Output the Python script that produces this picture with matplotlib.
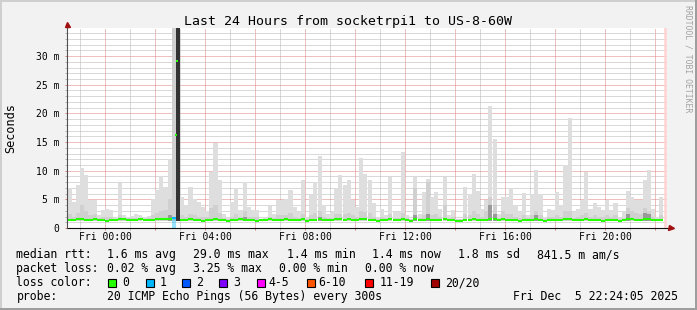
# Smokeping style latency chart, last 24 hours socketrpi1 -> US-8-60W
import numpy as np
import matplotlib
matplotlib.use("Agg")
import matplotlib.pyplot as plt
from matplotlib.patches import Rectangle
from matplotlib.ticker import MultipleLocator, FuncFormatter

W, H = 697, 310
MONO = "DejaVu Sans Mono"

# time axis in hours relative to Fri 00:00, 10 minute steps from Thu 22:30
step_h = 1 / 6
start_h = -1.5
now_h = 22.4

# smoke: top of the light gray band (ms) per step
smoke_max = [
    7.0, 4.6, 7.5, 10.5, 9.2, 4.9, 4.9, 2.2, 3.2, 3.4,
    3.1, 1.9, 7.9, 2.3, 2.0, 2.1, 2.4, 2.2, 2.0, 2.1,
    5.0, 6.6, 9.0, 7.2, 12.0, 40.0, 40.0, 5.4, 4.0, 7.1,
    5.1, 4.6, 3.7, 3.0, 9.8, 14.9, 8.4, 2.5, 1.9, 4.6,
    6.9, 3.1, 8.1, 3.7, 3.1, 3.1, 1.6, 1.7, 3.8, 2.5,
    4.9, 4.9, 5.0, 6.6, 3.7, 2.8, 8.4, 1.9, 5.7, 8.1,
    12.5, 4.0, 2.5, 2.8, 6.9, 9.2, 7.5, 8.4, 4.9, 3.7,
    12.2, 9.5, 8.4, 4.3, 1.9, 3.4, 2.2, 8.9, 2.8, 2.8,
    13.3, 2.2, 1.6, 8.9, 2.5, 6.3, 8.5, 5.4, 6.3, 3.4,
    8.9, 2.2, 3.1, 1.6, 1.6, 7.2, 6.0, 9.4, 6.5, 3.4,
    4.9, 21.3, 15.5, 2.5, 5.4, 5.4, 6.9, 4.0, 2.8, 6.1,
    2.2, 6.0, 10.2, 6.0, 1.9, 3.4, 3.1, 6.3, 4.0, 11.0,
    19.2, 2.8, 3.4, 4.9, 9.8, 3.4, 4.3, 3.7, 3.1, 4.9,
    3.1, 4.3, 1.9, 2.8, 6.5, 5.4, 4.9, 4.9, 8.4, 10.1,
    3.4, 1.9, 5.4,
]

# denser middle band of the smoke (ms)
smoke_mid = [
    2.4, 2.0, 2.6, 4.0, 3.0, 2.2, 2.4, 1.8, 2.0, 2.0,
    1.9, 1.6, 2.2, 1.8, 1.7, 1.7, 1.8, 1.7, 1.6, 1.7,
    2.2, 2.6, 3.0, 3.2, 5.0, 40.0, 40.0, 2.2, 2.0, 2.4,
    2.2, 2.0, 2.0, 1.9, 3.5, 4.0, 2.6, 1.8, 1.6, 2.0,
    2.4, 1.9, 3.0, 2.0, 1.9, 1.9, 1.5, 1.5, 2.0, 1.8,
    2.2, 2.2, 2.2, 2.6, 2.0, 1.8, 2.4, 1.6, 2.2, 2.6,
    3.0, 2.0, 1.8, 1.8, 2.4, 2.5, 2.4, 2.6, 2.2, 2.0,
    3.0, 2.8, 2.6, 2.0, 1.6, 2.0, 1.8, 2.4, 1.8, 1.8,
    2.6, 1.8, 1.5, 7.0, 1.8, 2.2, 8.0, 2.2, 2.4, 2.0,
    4.0, 1.8, 2.0, 1.5, 1.5, 2.4, 2.2, 3.0, 2.4, 2.0,
    3.0, 5.4, 4.0, 1.8, 3.0, 2.5, 2.4, 2.0, 1.8, 2.2,
    1.8, 2.2, 3.0, 2.2, 1.6, 2.0, 1.9, 2.2, 2.0, 3.0,
    3.0, 1.8, 2.0, 2.2, 2.6, 2.0, 2.2, 2.0, 1.9, 2.2,
    2.0, 2.2, 1.6, 1.8, 3.5, 3.0, 2.6, 2.5, 3.5, 3.0,
    2.0, 1.6, 2.2,
]

# darkest core of the smoke (ms), 0 = none
smoke_dark = [
    0, 0, 0, 0, 0, 0, 0, 0, 0, 0,
    0, 0, 0, 0, 0, 0, 0, 0, 0, 0,
    0, 0, 0, 0, 2.2, 0, 40.0, 0, 0, 0,
    0, 0, 0, 0, 0, 0, 0, 0, 0, 0,
    0, 0, 2.0, 0, 0, 0, 0, 0, 0, 0,
    0, 0, 0, 0, 0, 0, 0, 0, 0, 0,
    2.0, 0, 0, 0, 0, 0, 0, 0, 0, 0,
    0, 0, 0, 0, 0, 0, 0, 0, 0, 0,
    0, 0, 0, 2.2, 0, 0, 2.4, 0, 0, 0,
    0, 0, 0, 0, 0, 0, 0, 0, 0, 0,
    0, 4.0, 2.5, 0, 0, 0, 0, 0, 0, 0,
    0, 0, 2.2, 0, 0, 0, 0, 0, 0, 0,
    0, 0, 0, 0, 0, 0, 0, 0, 0, 0,
    0, 0, 0, 0, 2.4, 0, 0, 0, 2.6, 2.4,
    0, 0, 0,
]

nan = np.nan
median = [
    1.4, 1.4, 1.5, 1.5, 1.4, 1.4, 1.5, 1.4, 1.4, 1.3,
    1.4, 1.4, 1.5, 1.5, 1.4, 1.4, 1.4, 1.5, 1.4, 1.4,
    1.4, 1.5, 1.5, 1.6, 1.6, 1.8, nan, 1.4, 1.4, 1.5,
    1.4, 1.4, 1.3, 1.4, 1.4, 1.5, 1.4, 1.4, 1.3, 1.4,
    1.4, 1.5, 1.4, 1.4, 1.4, 1.3, 1.4, 1.4, 1.5, 1.4,
    1.4, 1.4, 1.5, 1.4, 1.4, 1.4, 1.5, 1.3, 1.4, 1.4,
    1.5, 1.4, 1.4, 1.4, 1.5, 1.5, 1.4, 1.5, 1.4, 1.4,
    1.5, 1.5, 1.4, 1.4, 1.3, 1.4, 1.4, 1.5, 1.4, 1.4,
    1.5, 1.4, 1.3, 1.5, 1.4, 1.4, 1.5, 1.4, 1.4, 1.4,
    1.5, 1.4, 1.4, 1.3, 1.3, 1.4, 1.4, 1.5, 1.4, 1.4,
    1.4, 1.6, 1.5, 1.4, 1.5, 1.4, 1.4, 1.4, 1.3, 1.4,
    1.4, 1.4, 1.5, 1.4, 1.3, 1.4, 1.4, 1.4, 1.4, 1.5,
    1.5, 1.4, 1.4, 1.4, 1.5, 1.4, 1.4, 1.4, 1.3, 1.4,
    1.4, 1.4, 1.3, 1.4, 1.5, 1.5, 1.4, 1.4, 1.5, 1.5,
    1.4, 1.4, 1.4,
]

# lost pings (of 20) per step
loss = [0] * 25 + [1] + [0] * 117

# the two median readings inside the big spike
spike_times = [2.83, 2.88]
spike_medians = [16.3, 29.2]

loss_labels = ["0", "1", "2", "3", "4-5", "6-10", "11-19", "20/20"]
loss_colors = ["#26ff00", "#00b8ff", "#0059ff", "#7e00ff", "#ff00ff",
               "#ff5500", "#ff0000", "#a10000"]

label_hours = [0, 4, 8, 12, 16, 20]
label_text = ["Fri 00:00", "Fri 04:00", "Fri 08:00", "Fri 12:00", "Fri 16:00", "Fri 20:00"]
ytick_vals = [0, 5, 10, 15, 20, 25, 30]
ytick_text = ["0", "5 m", "10 m", "15 m", "20 m", "25 m", "30 m"]

title = "Last 24 Hours from socketrpi1 to US-8-60W"
rtt_items = ["1.6 ms avg", "29.0 ms max", "1.4 ms min", "1.4 ms now", "1.8 ms sd", "841.5 m am/s"]
loss_items = ["0.02 % avg", "3.25 % max", "0.00 % min", "0.00 % now"]
probe_text = "20 ICMP Echo Pings (56 Bytes) every 300s"
stamp_text = "Fri Dec  5 22:24:05 2025"


def loss_color(n):
    if n <= 3:
        return loss_colors[n]
    if n <= 5:
        return loss_colors[4]
    if n <= 10:
        return loss_colors[5]
    if n < 20:
        return loss_colors[6]
    return loss_colors[7]


def ftext(x, y, s, **kw):
    kw.setdefault("family", MONO)
    kw.setdefault("size", 8.3)
    fig.text(x / W, 1 - y / H, s, **kw)


fig = plt.figure(figsize=(W / 100, H / 100), dpi=100, facecolor="#f2f2f2")
ax = fig.add_axes([67 / W, 1 - 228 / H, 600 / W, 200 / H], facecolor="white")

times = start_h + step_h * np.arange(len(smoke_max))
base = 1.3
smax = np.array(smoke_max)
smid = np.array(smoke_mid)
sdark = np.array(smoke_dark)

ax.bar(times, smax - base, bottom=base, width=step_h, align="edge",
       color="#dedede", linewidth=0, zorder=2)
ax.bar(times, np.clip(smid - base, 0, None), bottom=base, width=step_h, align="edge",
       color="#d0d0d0", linewidth=0, zorder=3)
# the big spike core is much darker than the small dense patches
dark_cols = ["#333333" if v > 20 else "#9a9a9a" for v in sdark]
ax.bar(times, np.where(sdark > 0, sdark - base, 0), bottom=base, width=step_h,
       align="edge", color=dark_cols, linewidth=0, zorder=4)

# loss shading under the median
med = np.array(median)
lossy = np.array(loss) > 0
ax.bar(times[lossy], med[lossy] - 0.25, width=step_h, align="edge",
       color=[loss_color(n) for n in np.array(loss)[lossy]], alpha=0.4,
       linewidth=0, zorder=4)

ok = ~np.isnan(med)
ax.hlines(med[ok], times[ok], times[ok] + step_h,
          colors=[loss_color(n) for n in np.array(loss)[ok]],
          linewidth=1.5, zorder=6)
ax.scatter(spike_times, spike_medians, marker="s", s=3, color=loss_colors[0],
           linewidths=0, zorder=7)

ax.axvline(now_h, color="#ffd2d2", linewidth=1.8, zorder=1)

ax.set_xlim(-1.52, 22.48)
ax.set_ylim(0, 34.9)

ax.xaxis.set_major_locator(MultipleLocator(2))
ax.xaxis.set_minor_locator(MultipleLocator(1))
lab = dict(zip(label_hours, label_text))
ax.xaxis.set_major_formatter(FuncFormatter(lambda v, p: lab.get(int(round(v)), "")))
ax.yaxis.set_major_locator(MultipleLocator(5))
ax.yaxis.set_minor_locator(MultipleLocator(1))
ax.set_yticks(ytick_vals)
ax.set_yticklabels(ytick_text)

MAJ, MIN = "#dc8080", "#b4b4b4"
dots = (0, (1, 1))
ax.grid(which="major", color=MAJ, linestyle=dots, linewidth=0.72)
ax.grid(which="minor", color=MIN, linestyle=dots, linewidth=0.72)
ax.set_axisbelow(True)

ax.tick_params(which="both", direction="out", length=1.5, width=0.72)
ax.tick_params(axis="x", which="major", colors=MAJ, labelcolor="black", pad=1.5)
ax.tick_params(axis="x", which="minor", colors=MIN)
ax.tick_params(axis="y", which="major", colors=MAJ, labelcolor="black", pad=4)
ax.tick_params(axis="y", which="minor", colors=MIN)
for t in ax.get_xticklabels() + ax.get_yticklabels():
    t.set_family(MONO)
    t.set_fontsize(7)

for s in ["top", "right", "bottom", "left"]:
    ax.spines[s].set_visible(False)
# axes with arrows
ax.plot([0, 1.004], [0, 0], transform=ax.transAxes, color="#101010",
        linewidth=0.8, clip_on=False, zorder=8)
ax.plot([0, 0], [0, 1.0], transform=ax.transAxes, color="#505050",
        linewidth=0.8, clip_on=False, zorder=8)
ax.plot([1.0065], [0], marker=">", transform=ax.transAxes, color="#a01010",
        markersize=3.6, clip_on=False, zorder=9)
ax.plot([0], [1.021], marker="^", transform=ax.transAxes, color="#a01010",
        markersize=3.6, clip_on=False, zorder=9)

# frame shading
for x, y, w, h, c in [(0, H - 2, W, 2, "#cfcfcf"), (0, 0, 2, H, "#cfcfcf"),
                      (0, 0, W, 2, "#9e9e9e"), (W - 2, 0, 2, H, "#9e9e9e")]:
    fig.add_artist(Rectangle((x / W, y / H), w / W, h / H, transform=fig.transFigure,
                             facecolor=c, edgecolor="none"))

ftext(348, 25, title, size=9.5, ha="center", va="baseline")
ftext(11, 128, "Seconds", size=8.6, rotation=90, ha="center", va="center")
ftext(688, 5, "RRDTOOL / TOBI OETIKER", size=5.9, rotation=-90, ha="center",
      va="top", color="#a3a3a3")

# legend block
row_y = [258, 272, 286, 300]
ftext(16.5, row_y[0], "median rtt:", va="baseline")
for x, s in zip([107, 193, 287, 372.5, 458, 537], rtt_items):
    ftext(x, row_y[0], s, va="baseline")
ftext(16.5, row_y[1], "packet loss:", va="baseline")
for x, s in zip([107, 193, 279, 365], loss_items):
    ftext(x, row_y[1], s, va="baseline")
ftext(16.5, row_y[2], "loss color:", va="baseline")
sw_x = [108.3, 145.7, 182.3, 219.3, 256.7, 306.7, 365, 431]
lb_x = [122.5, 160, 196.5, 233.5, 268.5, 318.5, 380, 445]
for sx, lx, s, c in zip(sw_x, lb_x, loss_labels, loss_colors):
    fig.add_artist(Rectangle((sx / W, 1 - 286.5 / H), 8 / W, 8 / H,
                             transform=fig.transFigure, facecolor=c,
                             edgecolor="black", linewidth=0.8))
    ftext(lx, row_y[2], s, va="baseline")
ftext(16.5, row_y[3], "probe:", va="baseline")
ftext(107, row_y[3], probe_text, va="baseline")
ftext(513, row_y[3], stamp_text, va="baseline")

fig.savefig("out.png", dpi=100, facecolor=fig.get_facecolor())
